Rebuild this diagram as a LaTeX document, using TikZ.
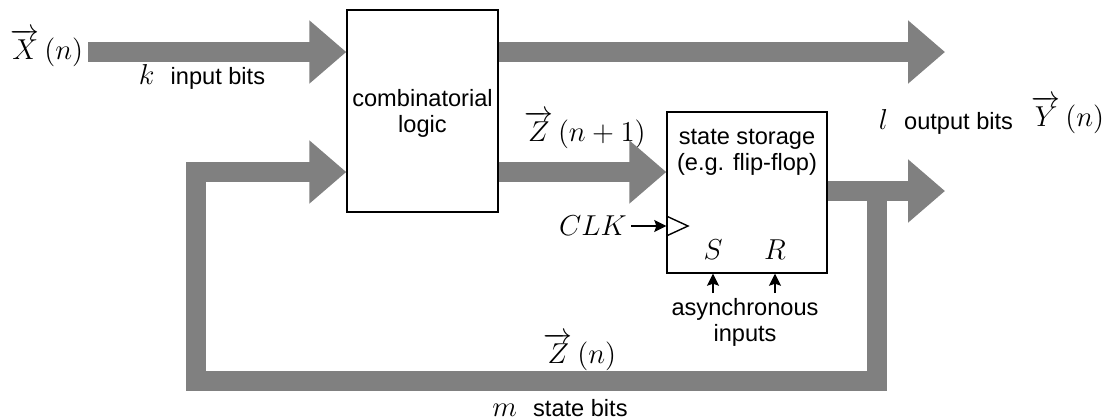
\documentclass[tikz,border=0pt]{standalone}
\usepackage{amsmath}
\usepackage{fontspec}
\setmainfont{Liberation Sans}
\usetikzlibrary{positioning, arrows.meta}
\tikzset{
	block/.style={draw, rectangle, line width=0.7pt},
	bus/.style={draw=gray, line width=10pt, -{Triangle[length=18.5pt,width=30.5pt]}},
	txt/.style={font=\fontsize{11.8}{13}\selectfont, inner sep=0pt, align=center},
	mlbl/.style={font=\fontsize{14.5}{17}\selectfont, inner sep=0pt},
	sig/.style={-{Stealth[length=6pt,width=6pt,inset=1pt]}, line width=0.8pt}
}

\begin{document}
\begin{tikzpicture}[x=0.5pt,y=-0.5pt]
	\useasboundingbox (0,0) rectangle (1107,419);
	% nodes %
	\node[block, minimum width=75.5pt, minimum height=101pt] (comb) at (422.5,111) {};
	\node[txt] (combtxt) at (422.5,113) {combinatorial\\logic};
	\node[block, minimum width=80pt, minimum height=80.5pt] (store) at (747,192.5) {};
	\node[txt] (storetxt) at (747,152) {state storage\\(e.g. flip-flop)};
	\node[mlbl] (xin) at (47,48) {$\overrightarrow{X}\,(n)$};
	\node[txt] (kbits) at (202,77) {\fontsize{14.5}{17}\selectfont$k$\ \ \fontsize{11.8}{13}\selectfont input bits};
	\node[mlbl] (znext) at (585,130) {$\overrightarrow{Z}\,(n+1)$};
	\node[txt] (lbits) at (946,122) {\fontsize{14.5}{17}\selectfont$l$\ \ \fontsize{11.8}{13}\selectfont output bits};
	\node[mlbl] (yout) at (1068,115) {$\overrightarrow{Y}\,(n)$};
	\node[mlbl, anchor=east] (clk) at (627,226) {$CLK$};
	\node[mlbl] (s) at (713,250) {$S$};
	\node[mlbl] (r) at (775,250) {$R$};
	\node[txt] (async) at (745,322) {asynchronous\\inputs};
	\node[mlbl] (zcur) at (580,352) {$\overrightarrow{Z}\,(n)$};
	\node[txt] (mbits) at (560,408) {\fontsize{14.5}{17}\selectfont$m$\ \ \fontsize{11.8}{13}\selectfont state bits};
	\coordinate (xstart) at (88,52);
	\coordinate (yend) at (945,52);
	\coordinate (fbend) at (945,191);
	\coordinate (fbsplit) at (877,182);
	\coordinate (fbin) at (196,172);

	% edges %
	\draw[bus] (xstart) -- (xstart -| comb.west);
	\draw[bus] (comb.east |- xstart) -- (yend);
	\draw[bus] (comb.east |- 0,172) -- (store.west |- 0,172);
	\draw[bus] (store.east |- fbend) -- (fbend);
	\draw[bus] (fbsplit) -- (877,381) -- (196,381) -- (fbin) -- (fbin -| comb.west);
	\draw[line width=0.7pt] (store.west |- 0,216) -- (688,226) -- (store.west |- 0,236);
	\draw[sig] ([xshift=2pt]clk.east) -- (clk.east -| store.west);
	\draw[sig] (713,293) -- (s |- store.south);
	\draw[sig] (775,293) -- (r |- store.south);
\end{tikzpicture}
\end{document}
